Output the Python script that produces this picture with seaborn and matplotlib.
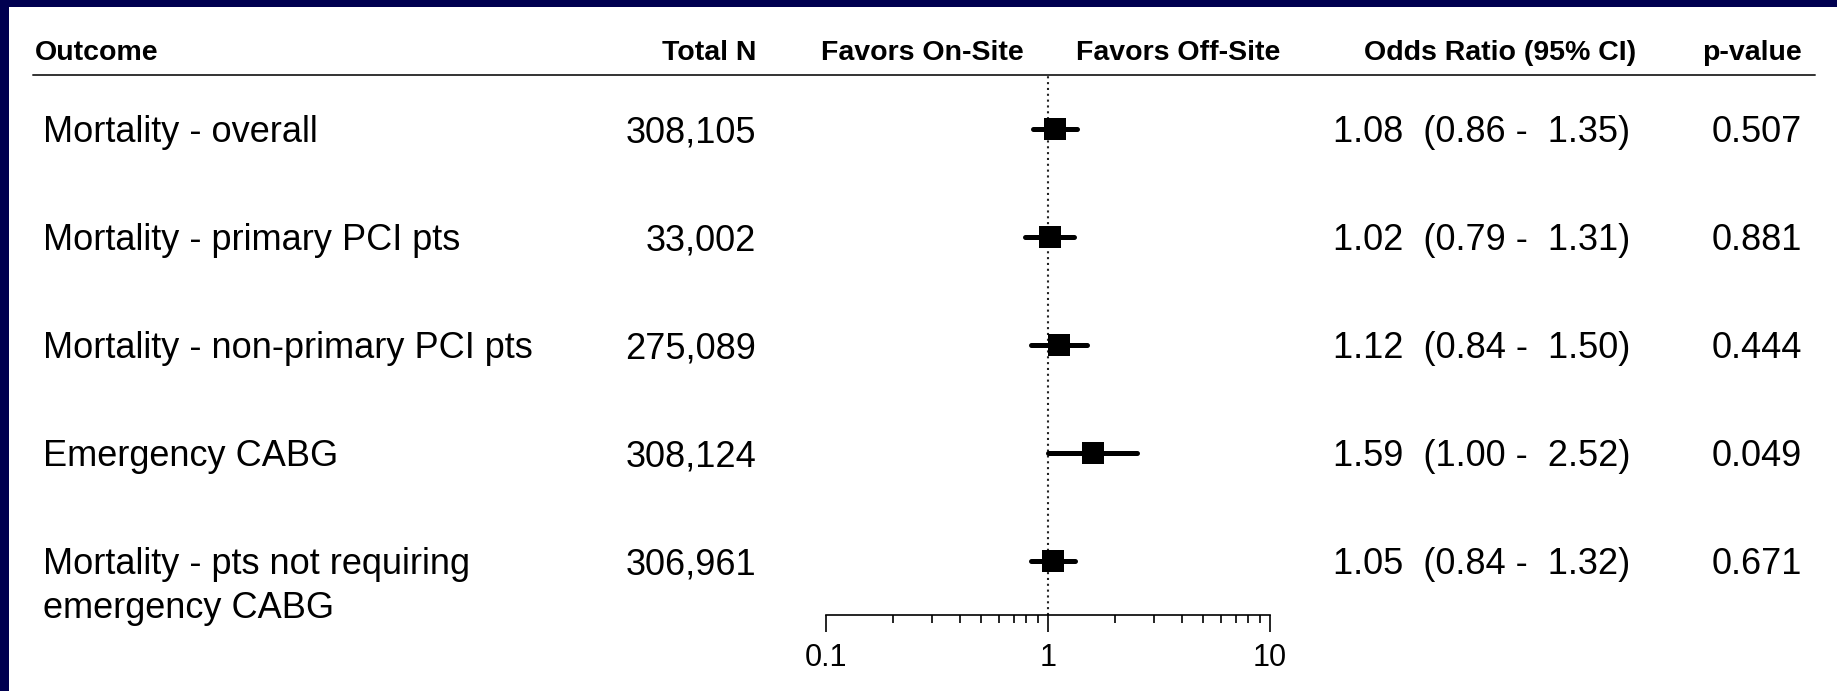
import matplotlib
matplotlib.use("Agg")
import matplotlib.pyplot as plt
import matplotlib.ticker as mticker
import matplotlib.transforms as mtransforms
from matplotlib.lines import Line2D
from matplotlib.patches import Rectangle
import pandas as pd
import seaborn as sns

# ---- data ----
outcomes = [
    "Mortality - overall",
    "Mortality - primary PCI pts",
    "Mortality - non-primary PCI pts",
    "Emergency CABG",
    "Mortality - pts not requiring\nemergency CABG",
]
total_n = [308105, 33002, 275089, 308124, 306961]
odds_ratio = [1.08, 1.02, 1.12, 1.59, 1.05]
ci_low = [0.86, 0.79, 0.84, 1.00, 0.84]
ci_high = [1.35, 1.31, 1.50, 2.52, 1.32]
p_values = ["0.507", "0.881", "0.444", "0.049", "0.671"]
axis_ticks = [0.1, 1, 10]
axis_tick_labels = ["0.1", "1", "10"]

df = pd.DataFrame({
    "outcome": outcomes,
    "row": range(len(outcomes)),
    "n": total_n,
    "or": odds_ratio,
    "lo": ci_low,
    "hi": ci_high,
    "p": p_values,
})

sns.set_style("white")
plt.rcParams["font.family"] = ["Liberation Sans", "DejaVu Sans"]

W, H = 1837, 691
fig = plt.figure(figsize=(W / 100, H / 100), dpi=100)
fig.patch.set_facecolor("#000050")

# white slide panel
fig.add_artist(Rectangle((9 / W, 0), 1 - 9 / W, 1 - 7 / H,
                         transform=fig.transFigure, facecolor="white",
                         edgecolor="none", zorder=0))

def fx(px):
    return px / W

def fy(py):
    return 1 - py / H

# forest-plot axes
ax = fig.add_axes([fx(826), fy(615), (1270 - 826) / W, (615 - 75) / H])
ax.set_facecolor("none")
ax.set_xscale("log")
ax.set_xlim(0.1, 10)
ax.set_ylim(len(outcomes) - 0.5, -0.5)
for side in ("top", "left", "right"):
    ax.spines[side].set_visible(False)
ax.spines["bottom"].set_linewidth(1.2)
ax.spines["bottom"].set_color("black")
ax.set_yticks([])
ax.xaxis.set_major_locator(mticker.FixedLocator(axis_ticks))
ax.xaxis.set_major_formatter(mticker.FixedFormatter(axis_tick_labels))
ax.xaxis.set_minor_locator(mticker.LogLocator(base=10, subs=range(2, 10)))
ax.xaxis.set_minor_formatter(mticker.NullFormatter())
ax.tick_params(axis="x", which="major", direction="out", length=12, width=1.2,
               labelsize=22, pad=8, colors="black", bottom=True)
ax.tick_params(axis="x", which="minor", direction="out", length=6, width=1.2,
               colors="black", bottom=True)

# line of no effect
ax.axvline(1, color="#222222", lw=1.5, ls=(0, (1.0, 1.8)), zorder=1)

# confidence intervals
ci = ax.hlines(df["row"], df["lo"], df["hi"], color="black", lw=3.6, zorder=2)
ci.set_capstyle("round")

# point estimates
sns.scatterplot(data=df, x="or", y="row", marker="s", s=250, color="black",
                linewidth=0, ax=ax, zorder=3, legend=False)
ax.set_xlabel("")
ax.set_ylabel("")

# header row
hdr = dict(fontsize=20.5, fontweight="bold", va="center_baseline", color="black")
yh = fy(50)
fig.text(fx(35), yh, "Outcome", ha="left", **hdr)
fig.text(fx(756), yh, "Total N", ha="right", **hdr)
fig.text(fx(922), yh, "Favors On-Site", ha="center", **hdr)
fig.text(fx(1178), yh, "Favors Off-Site", ha="center", **hdr)
fig.text(fx(1500), yh, "Odds Ratio (95% CI)", ha="center", **hdr)
fig.text(fx(1802), yh, "p-value", ha="right", **hdr)
fig.add_artist(Line2D([fx(33), fx(1815)], [fy(75), fy(75)], color="#333333",
                      lw=1.4, transform=fig.transFigure))

# table columns, aligned to the rows of the forest axes
tr = mtransforms.blended_transform_factory(fig.transFigure, ax.transData)
body = dict(fontsize=26, va="center_baseline", color="black", transform=tr)
line_step = 44 / 108  # second line of a wrapped label, in row units
for _, r in df.iterrows():
    for k, part in enumerate(r["outcome"].split("\n")):
        fig.text(fx(43), r["row"] + k * line_step, part, ha="left", **body)
    fig.text(fx(756), r["row"], f"{r['n']:,}", ha="right", **body)
    fig.text(fx(1333), r["row"],
             f"{r['or']:.2f}  ({r['lo']:.2f} -  {r['hi']:.2f})", ha="left", **body)
    fig.text(fx(1802), r["row"], r["p"], ha="right", **body)

fig.savefig("out.png", dpi=100, facecolor=fig.get_facecolor())
